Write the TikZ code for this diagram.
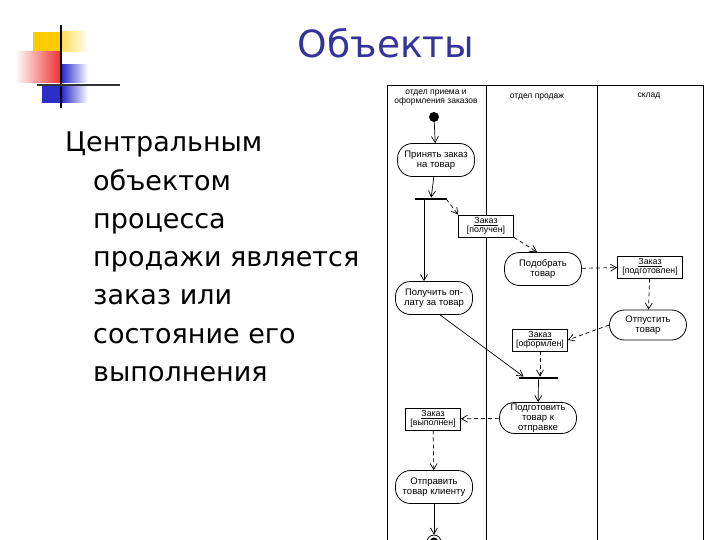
\documentclass[tikz,border=0pt]{standalone}
\usepackage{fontspec}
\setmainfont{DejaVu Sans}
\newfontfamily\diagfont{Liberation Sans}
\usepackage{tikz}
\usetikzlibrary{arrows.meta,positioning,shapes.geometric}
\definecolor{titleblue}{RGB}{51,51,153}
\definecolor{logoyellow}{RGB}{255,204,0}
\definecolor{logored}{RGB}{240,50,50}
\definecolor{logoblue}{RGB}{45,45,200}

\begin{document}
\begin{tikzpicture}[x=1pt, y=-1pt]
    \tikzstyle{lanehead} = [font=\diagfont\fontsize{8.5}{9}\selectfont, align=center, inner sep=0pt]
    \tikzstyle{action} = [draw, fill=white, rectangle, rounded corners=15pt, minimum width=77pt, minimum height=33pt, inner sep=1pt, align=center, font=\diagfont\fontsize{9.5}{10.2}\selectfont, line width=0.8pt]
    \tikzstyle{object} = [draw, fill=white, rectangle, minimum width=55pt, minimum height=22pt, inner sep=1pt, align=center, font=\diagfont\fontsize{8.8}{9.4}\selectfont, line width=0.8pt]
    \tikzstyle{bar} = [fill=black, rectangle, minimum height=2.5pt, inner sep=0pt]
    \tikzstyle{flow} = [-{Straight Barb[length=6pt,width=7pt]}, line width=0.7pt]
    \tikzstyle{objflow} = [flow, dash pattern=on 4pt off 3pt]
    \tikzstyle{bodytext} = [anchor=base west, inner sep=0pt, font=\fontsize{27}{30}\selectfont]

    \clip (0,0) rectangle (720,540);

    % logo
    \fill[logoyellow] (33,32) rectangle (60,52);
    \shade[left color=logoyellow!70, right color=white] (60,32) rectangle (88,52);
    \shade[left color=white, right color=logored] (15,52) rectangle (60,83);
    \shade[left color=logoblue, right color=white] (62,65) rectangle (88,83);
    \fill[logoblue] (42,85) rectangle (62,103);
    \shade[left color=logoblue, right color=white] (62,85) rectangle (88,103);
    \draw[line width=2pt] (61,25) -- (61,108);
    \draw[line width=2pt, black!80] (37,85) -- (120,85);

    % title and text
    \node[font=\fontsize{37.5}{44}\selectfont, text=titleblue, anchor=base] (title) at (386,58) {Объекты};
    \foreach \txt/\xx/\row in {Центральным/65/0, объектом/93/1, процесса/93/2, продажи является/93/3, заказ или/93/4, состояние его/93/5, выполнения/93/6}
        \node[bodytext] (line\row) at (\xx, {152+38.2*\row}) {\txt};

    % swimlanes
    \draw[line width=0.9pt] (387,560) -- (387,85) -- (703,85) -- (703,560);
    \draw[line width=0.9pt] (486,85) -- (486,560);
    \draw[line width=0.9pt] (597,85) -- (597,560);
    \node[lanehead] (hdr1) at (436,97.5) {отдел приема и\\оформления заказов};
    \node[lanehead] (hdr2) at (537,97) {отдел продаж};
    \node[lanehead] (hdr3) at (649,96) {склад};

    % activities and objects
    \node[circle, fill, minimum size=10pt, inner sep=0pt] (start) at (434,117) {};
    \node[action] (accept) at (436,160) {Принять заказ\\на товар};
    \node[bar, minimum width=32pt] (fork) at (431,199) {};
    \node[object] (got) at (486,226) {\underline{Заказ}\\{[получен]}};
    \node[action] (pick) at (543,269) {Подобрать\\товар};
    \node[object, minimum width=65pt] (ready) at (650,267) {\underline{Заказ}\\{[подготовлен]}};
    \node[action, minimum height=30pt] (release) at (648,325) {Отпустить\\товар};
    \node[action] (pay) at (434,298) {Получить оп-\\лату за товар};
    \node[object] (formed) at (540,340) {\underline{Заказ}\\{[оформлен]}};
    \node[bar, minimum width=39pt] (join) at (538.5,378) {};
    \node[action, minimum height=31pt] (ship) at (538,418) {Подготовить\\товар к\\отправке};
    \node[object] (done) at (433,419) {\underline{Заказ}\\{[выполнен]}};
    \node[action] (send) at (434,487) {Отправить\\товар клиенту};
    \node[circle, draw, minimum size=14pt, inner sep=0pt, line width=0.8pt] (finish) at (434,542) {};
    \fill (finish.center) circle (4.5pt);

    \draw[flow] (start) -- (accept);
    \draw[flow] (accept) -- (fork);
    \draw[flow] ([xshift=-7pt]fork.south) -- ([xshift=-10pt]pay.north);
    \draw[objflow] ([xshift=-1pt]fork.east) -- (got.north west);
    \draw[objflow] (got.south east) -- ([xshift=-6pt]pick.north);
    \draw[objflow] (pick) -- (ready);
    \draw[objflow] (ready) -- (release);
    \draw[objflow] (release.west) -- (formed.east);
    \draw[flow] ([xshift=6pt]pay.south) -- ([xshift=-15pt]join.north);
    \draw[objflow] (formed) -- (formed |- join.north);
    \draw[flow] (join) -- (ship);
    \draw[objflow] (ship) -- (done);
    \draw[objflow] (done) -- (send);
    \draw[flow] (send) -- (finish);
\end{tikzpicture}
\end{document}
